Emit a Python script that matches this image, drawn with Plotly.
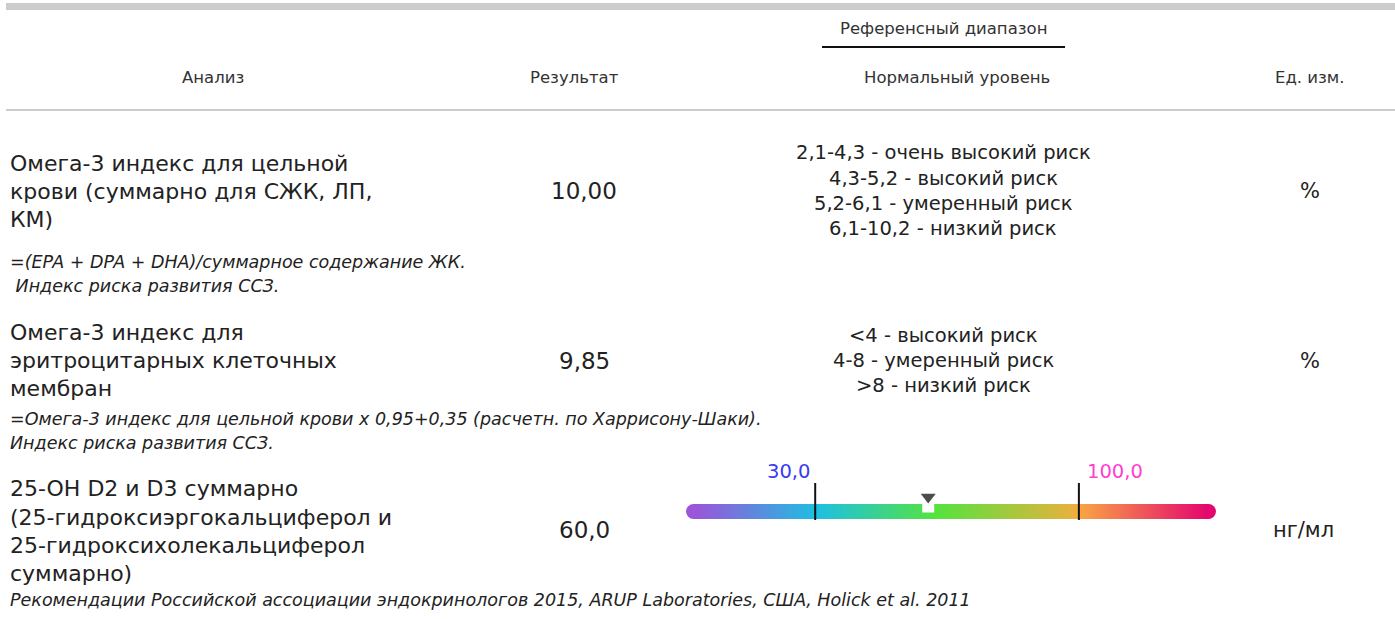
import numpy as np
import plotly.graph_objects as go

FONT = "DejaVu Sans"
TXT = "#333333"

# ---------------- data ----------------
header_group = "Референсный диапазон"
headers = ["Анализ", "Результат", "Нормальный уровень", "Ед. изм."]

analyses = [
    ["Омега-3 индекс для цельной", "крови (суммарно для СЖК, ЛП,", "КМ)"],
    ["Омега-3 индекс для", "эритроцитарных клеточных", "мембран"],
    ["25-OH D2 и D3 суммарно", "(25-гидроксиэргокальциферол и", "25-гидроксихолекальциферол", "суммарно)"],
]
results = ["10,00", "9,85", "60,0"]
ref_ranges = [
    ["2,1-4,3 - очень высокий риск", "4,3-5,2 - высокий риск", "5,2-6,1 - умеренный риск", "6,1-10,2 - низкий риск"],
    ["<4 - высокий риск", "4-8 - умеренный риск", ">8 - низкий риск"],
    [],
]
units = ["%", "%", "нг/мл"]
notes = [
    ["=(EPA + DPA + DHA)/суммарное содержание ЖК.", " Индекс риска развития ССЗ."],
    ["=Омега-3 индекс для цельной крови x 0,95+0,35 (расчетн. по Харрисону-Шаки).", "Индекс риска развития ССЗ."],
    ["Рекомендации Российской ассоциации эндокринологов 2015, ARUP Laboratories, США, Holick et al. 2011"],
]

# gauge for the third analysis
gauge_low = 30.0
gauge_high = 100.0
gauge_value = 60.0
gauge_low_label = "30,0"
gauge_high_label = "100,0"
gauge_min = -2.3
gauge_max = 134.4
gauge_axis_range = [-4.3, 136.4]

# ---------------- layout helpers ----------------
W, H = 1395, 619
row_name_y = [[163, 191, 219], [332, 360, 388], [488, 517, 545, 573]]
row_mid_y = [191, 361, 530]
row_ref_y = [[152, 178, 203, 228], [335, 360, 385], []]
row_note_y = [[262, 286], [419, 443], [600]]

fig = go.Figure()
ann = []
shapes = []

# top thick grey band and header separator
shapes.append(dict(type="rect", xref="x", yref="y", x0=6, x1=1395, y0=3, y1=10,
                   fillcolor="#cccccc", line_width=0, layer="above"))
shapes.append(dict(type="line", xref="x", yref="y", x0=6, x1=1395, y0=110, y1=110,
                   line=dict(color="#cccccc", width=2), layer="above"))
# header group underline
shapes.append(dict(type="line", xref="x", yref="y", x0=822, x1=1065, y0=47, y1=47,
                   line=dict(color="#111111", width=2), layer="above"))

HFS = 16.5
ann.append(dict(x=943, y=28, text=header_group, xref="x", yref="y", showarrow=False,
                xanchor="center", yanchor="middle", font=dict(family=FONT, size=HFS, color=TXT)))
for hx, h in zip([213, 574, 957, 1310], headers):
    ann.append(dict(x=hx, y=77, text=h, xref="x", yref="y", showarrow=False,
                    xanchor="center", yanchor="middle", font=dict(family=FONT, size=HFS, color=TXT)))

LX = 8
for i in range(3):
    for line, y in zip(analyses[i], row_name_y[i]):
        ann.append(dict(x=LX, y=y, text=line, xref="x", yref="y", showarrow=False,
                        xanchor="left", yanchor="middle", font=dict(family=FONT, size=22, color="#222222")))
    ann.append(dict(x=584, y=row_mid_y[i], text=results[i], xref="x", yref="y", showarrow=False,
                    xanchor="center", yanchor="middle", font=dict(family=FONT, size=23, color="#222222")))
    for line, y in zip(ref_ranges[i], row_ref_y[i]):
        ann.append(dict(x=943, y=y, text=line, xref="x", yref="y", showarrow=False,
                        xanchor="center", yanchor="middle", font=dict(family=FONT, size=19.5, color="#222222")))
    ux = 1310 if units[i] == "%" else 1303
    ann.append(dict(x=ux, y=row_mid_y[i], text=units[i], xref="x", yref="y", showarrow=False,
                    xanchor="center", yanchor="middle", font=dict(family=FONT, size=21, color="#222222")))
    for line, y in zip(notes[i], row_note_y[i]):
        ann.append(dict(x=LX, y=y, text="<i>" + line + "</i>", xref="x", yref="y", showarrow=False,
                        xanchor="left", yanchor="middle", font=dict(family=FONT, size=17.5, color="#222222")))

# ---------------- gauge ----------------
N = 300
edges = np.linspace(gauge_min, gauge_max, N + 1)
zvals = np.linspace(0, 1, N)
cscale = [
    [0.0, "#9b55d9"],
    [0.24, "#1ec0e2"],
    [0.47, "#55e33f"],
    [0.735, "#e6b23e"],
    [0.75, "#f9a545"],
    [1.0, "#e4066f"],
]
for xv, col in [(gauge_min, "#9b55d9"), (gauge_max, "#e4066f")]:
    shapes.append(dict(type="circle", xref="x2", yref="y", xsizemode="pixel", xanchor=xv,
                       x0=-7.5, x1=7.5, y0=504, y1=519, fillcolor=col, line_width=0, layer="below"))
fig.add_trace(go.Heatmap(x=edges, y=[504, 519], z=[zvals], colorscale=cscale, zmin=0, zmax=1,
                         zsmooth="best", showscale=False, hoverinfo="skip",
                         xaxis="x2", yaxis="y"))

fig.add_trace(go.Scatter(x=[gauge_low, gauge_low, None, gauge_high, gauge_high],
                         y=[483, 520, None, 483, 520], mode="lines",
                         line=dict(color="#111111", width=2), hoverinfo="skip",
                         xaxis="x2", yaxis="y"))
fig.add_trace(go.Scatter(x=[gauge_value], y=[506.5], mode="markers",
                         marker=dict(symbol="square", size=12, color="white", line_width=0),
                         hoverinfo="skip", xaxis="x2", yaxis="y"))
fig.add_trace(go.Scatter(x=[gauge_value], y=[497], mode="markers",
                         marker=dict(symbol="triangle-down", size=13, color="#4d4d4d", line_width=0),
                         hoverinfo="skip", xaxis="x2", yaxis="y"))

ann.append(dict(x=gauge_low, y=471, text=gauge_low_label, xref="x2", yref="y", showarrow=False,
                xanchor="right", yanchor="middle", xshift=-3,
                font=dict(family=FONT, size=19.5, color="#3b3bf0")))
ann.append(dict(x=gauge_high, y=471, text=gauge_high_label, xref="x2", yref="y", showarrow=False,
                xanchor="left", yanchor="middle", xshift=6,
                font=dict(family=FONT, size=19.5, color="#ff3fd0")))

fig.update_layout(
    width=W, height=H,
    margin=dict(l=0, r=0, t=0, b=0),
    paper_bgcolor="white", plot_bgcolor="rgba(0,0,0,0)",
    showlegend=False,
    xaxis=dict(range=[0, W], visible=False, domain=[0, 1], fixedrange=True),
    yaxis=dict(range=[H, 0], visible=False, domain=[0, 1], fixedrange=True),
    xaxis2=dict(range=gauge_axis_range, visible=False,
                domain=[686 / W, 1216 / W], anchor="y", fixedrange=True),
    annotations=ann,
    shapes=shapes,
)

fig.write_html("out.html", config={"displayModeBar": False},
               post_script="document.body.style.margin='0px';document.body.style.overflow='hidden';")
